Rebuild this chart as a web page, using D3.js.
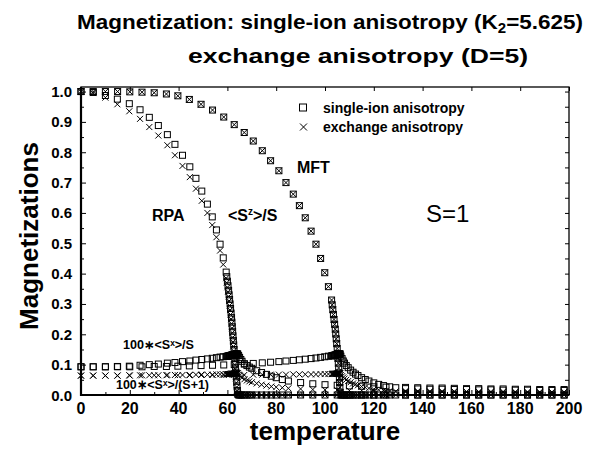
<!DOCTYPE html>
<html>
<head>
<meta charset="utf-8">
<script src="https://cdn.jsdelivr.net/npm/d3@7"></script>
<style>
  body { margin: 0; background: #fff; }
  text { font-family: "Liberation Sans", Arial, Helvetica, sans-serif; fill: #000; }
</style>
</head>
<body>
<script>
// ---- data ----

// RPA temperature grid (dense near Tc ~ 64)
let rpaT = [0, 5, 10, 14.9, 19.8, 24.2, 28, 31.7, 35.4, 38.5, 41.6, 44.6, 47.1, 49.5, 51.8, 53.8, 55.5, 57, 58.3,
  59.5, 59.75, 60, 60.25, 60.5, 60.7, 60.9, 61.1, 61.3, 61.5, 61.7, 61.85, 62, 62.15, 62.3, 62.45, 62.6, 62.75, 62.9, 63.05, 63.2, 63.35, 63.5, 63.65, 63.8, 63.95, 64.1, 64.25,
  64.6, 65, 65.5, 66, 67, 68, 69, 70, 72, 74, 76, 78, 80, 82.5, 85, 90, 95, 100, 105, 110, 115, 120, 125,
  133, 138, 143, 148, 153, 158, 163, 168, 173, 178, 183, 188, 193, 198];

// <Sz>/S, single-ion anisotropy (squares)
let rpaSzSingle = [1.0, 0.997, 0.987, 0.975, 0.96, 0.94, 0.915, 0.888, 0.858, 0.826, 0.79, 0.752, 0.714, 0.672, 0.629, 0.587, 0.544, 0.497, 0.452,
  0.405, 0.39, 0.375, 0.36, 0.345, 0.33, 0.315, 0.3, 0.285, 0.27, 0.255, 0.24, 0.225, 0.21, 0.195, 0.18, 0.165, 0.15, 0.135, 0.12, 0.105, 0.09, 0.075, 0.06, 0.045, 0.03, 0.015, 0.003,
  0, 0, 0, 0, 0, 0, 0, 0, 0, 0, 0, 0, 0, 0, 0, 0, 0, 0, 0, 0, 0, 0, 0,
  0, 0, 0, 0, 0, 0, 0, 0, 0, 0, 0, 0, 0, 0];

// <Sz>/S, exchange anisotropy (crosses)
let rpaSzExch = [1.0, 0.995, 0.98, 0.958, 0.935, 0.91, 0.883, 0.855, 0.823, 0.79, 0.755, 0.718, 0.68, 0.64, 0.6, 0.56, 0.52, 0.476, 0.43,
  0.385, 0.37, 0.355, 0.34, 0.325, 0.31, 0.295, 0.28, 0.265, 0.25, 0.235, 0.22, 0.205, 0.19, 0.175, 0.16, 0.145, 0.13, 0.115, 0.1, 0.085, 0.07, 0.055, 0.04, 0.026, 0.014, 0.005, 0,
  0, 0, 0, 0, 0, 0, 0, 0, 0, 0, 0, 0, 0, 0, 0, 0, 0, 0, 0, 0, 0, 0, 0,
  0, 0, 0, 0, 0, 0, 0, 0, 0, 0, 0, 0, 0, 0];

// 100*<Sx>/S, single-ion (squares)
let rpaSxSingle = [0.093, 0.093, 0.093, 0.094, 0.095, 0.098, 0.1, 0.102, 0.105, 0.107, 0.11, 0.112, 0.115, 0.117, 0.119, 0.121, 0.123, 0.125, 0.126,
  0.127, 0.127, 0.128, 0.128, 0.129, 0.129, 0.13, 0.13, 0.13, 0.131, 0.131, 0.131, 0.132, 0.132, 0.132, 0.133, 0.133, 0.133, 0.134, 0.134, 0.134, 0.134, 0.135, 0.135, 0.135, 0.135, 0.135, 0.135,
  0.13, 0.124, 0.117, 0.111, 0.103, 0.097, 0.092, 0.088, 0.08, 0.074, 0.068, 0.062, 0.057, 0.051, 0.046, 0.041, 0.037, 0.034, 0.032, 0.03, 0.029, 0.027, 0.026,
  0.025, 0.024, 0.023, 0.023, 0.022, 0.021, 0.021, 0.02, 0.02, 0.019, 0.019, 0.018, 0.018, 0.018];

// 100*<Sx>/(S+1), exchange (crosses)
let rpaSxExch = [0.064, 0.064, 0.064, 0.064, 0.065, 0.065, 0.065, 0.065, 0.066, 0.066, 0.066, 0.066, 0.067, 0.067, 0.067, 0.067, 0.068, 0.068, 0.068,
  0.068, 0.068, 0.068, 0.069, 0.069, 0.069, 0.069, 0.069, 0.069, 0.07, 0.07, 0.07, 0.07, 0.07, 0.07, 0.07, 0.07, 0.071, 0.071, 0.071, 0.071, 0.071, 0.071, 0.071, 0.071, 0.071, 0.071, 0.071,
  0.067, 0.064, 0.06, 0.057, 0.052, 0.048, 0.045, 0.042, 0.038, 0.034, 0.031, 0.028, 0.026, 0.024, 0.022, 0.02, 0.018, 0.017, 0.016, 0.015, 0.015, 0.014, 0.014,
  0.013, 0.013, 0.012, 0.012, 0.012, 0.011, 0.011, 0.011, 0.011, 0.01, 0.01, 0.01, 0.01, 0.01];

// MFT temperature grid (dense near Tc ~ 106)
let mftT = [0, 5, 10, 15, 20, 25, 30, 35, 39.7, 44.4, 49.2, 53.9, 58.5, 62.8, 66.9, 70.6, 74.3, 77.7, 81.1, 84, 87, 89.5, 91.9, 94.3, 96.3, 98.2, 99.9, 101.4,
  102.7, 102.95, 103.2, 103.45, 103.7, 103.95, 104.2, 104.4, 104.6, 104.8, 105, 105.15, 105.3, 105.45, 105.6, 105.75, 105.9, 106, 106.1, 106.2,
  106.5, 107, 107.5, 108, 108.7, 109.5, 110.5, 111.5, 112.5, 113.5, 115, 116.5, 118, 120, 122, 124, 126.5, 129,
  133, 138, 143, 148, 153, 158, 163, 168, 173, 178, 183, 188, 193, 198];

// MFT <Sz>/S (both anisotropies fall on top of each other)
let mftSz = [1, 1, 1, 1, 0.999, 0.998, 0.996, 0.992, 0.986, 0.974, 0.958, 0.939, 0.916, 0.891, 0.865, 0.837, 0.805, 0.772, 0.739, 0.7, 0.662, 0.624, 0.584, 0.54, 0.497, 0.45, 0.403, 0.357,
  0.313, 0.297, 0.281, 0.265, 0.249, 0.233, 0.217, 0.201, 0.185, 0.169, 0.153, 0.137, 0.121, 0.105, 0.089, 0.073, 0.057, 0.041, 0.025, 0.009,
  0, 0, 0, 0, 0, 0, 0, 0, 0, 0, 0, 0, 0, 0, 0, 0, 0, 0,
  0, 0, 0, 0, 0, 0, 0, 0, 0, 0, 0, 0, 0, 0];

let mftSxSingle = [0.093, 0.093, 0.093, 0.093, 0.093, 0.093, 0.094, 0.094, 0.095, 0.096, 0.097, 0.098, 0.099, 0.1, 0.102, 0.104, 0.106, 0.108, 0.11, 0.112, 0.114, 0.116, 0.118, 0.12, 0.122, 0.124, 0.126, 0.128,
  0.129, 0.129, 0.13, 0.13, 0.131, 0.131, 0.132, 0.132, 0.133, 0.133, 0.133, 0.134, 0.134, 0.134, 0.135, 0.135, 0.135, 0.135, 0.135, 0.135,
  0.128, 0.12, 0.112, 0.105, 0.097, 0.09, 0.082, 0.075, 0.069, 0.064, 0.057, 0.051, 0.046, 0.04, 0.035, 0.031, 0.027, 0.024,
  0.021, 0.02, 0.019, 0.019, 0.018, 0.018, 0.017, 0.017, 0.016, 0.016, 0.016, 0.015, 0.015, 0.015];

let mftSxExch = [0.064, 0.064, 0.064, 0.064, 0.064, 0.065, 0.065, 0.065, 0.065, 0.065, 0.066, 0.066, 0.066, 0.066, 0.066, 0.067, 0.067, 0.067, 0.067, 0.067, 0.068, 0.068, 0.068, 0.068, 0.068, 0.069, 0.069, 0.069,
  0.069, 0.069, 0.07, 0.07, 0.07, 0.07, 0.07, 0.07, 0.07, 0.071, 0.071, 0.071, 0.071, 0.071, 0.071, 0.071, 0.071, 0.071, 0.071, 0.071,
  0.066, 0.062, 0.058, 0.054, 0.05, 0.046, 0.042, 0.038, 0.035, 0.032, 0.028, 0.025, 0.022, 0.019, 0.017, 0.015, 0.013, 0.012,
  0.011, 0.011, 0.01, 0.01, 0.01, 0.01, 0.009, 0.009, 0.009, 0.009, 0.009, 0.008, 0.008, 0.008];

// tick values
let xMajor = [0, 20, 40, 60, 80, 100, 120, 140, 160, 180, 200];
let xMinor = [10, 30, 50, 70, 90, 110, 130, 150, 170, 190];
let yMajor = [0, 0.1, 0.2, 0.3, 0.4, 0.5, 0.6, 0.7, 0.8, 0.9, 1.0];
let yMinor = [0.05, 0.15, 0.25, 0.35, 0.45, 0.55, 0.65, 0.75, 0.85, 0.95];

// ---- layout ----
let svgWidth = 590,
    svgHeight = 452;

let svg = d3.select('body').append('svg')
            .attr('width', svgWidth)
            .attr('height', svgHeight);

let x = d3.scaleLinear().domain([0, 200]).range([81, 569]);
let y = d3.scaleLinear().domain([0, 1.015]).range([395, 87]);

// ticks (all pointing inwards)
function tickAxis(axis, vals, size, transform) {
  let g = svg.append('g')
             .attr('transform', transform)
             .call(axis.tickValues(vals).tickSize(size).tickFormat(''));
  g.select('.domain').remove();
  g.selectAll('line').attr('stroke', '#000').attr('stroke-width', 1);
  return g;
}
tickAxis(d3.axisBottom(x), xMajor, -5, 'translate(0,395)');
tickAxis(d3.axisBottom(x), xMinor, -3, 'translate(0,395)');
tickAxis(d3.axisTop(x), xMajor, -4, 'translate(0,87)');
tickAxis(d3.axisLeft(y), yMajor, -5, 'translate(81,0)');
tickAxis(d3.axisLeft(y), yMinor, -3, 'translate(81,0)');
tickAxis(d3.axisRight(y), yMajor.concat(yMinor), -4, 'translate(569,0)');

// frame
svg.append('rect')
   .attr('x', 81).attr('y', 87)
   .attr('width', 488).attr('height', 308)
   .attr('fill', 'none')
   .attr('stroke', '#000')
   .attr('stroke-width', 1.3);
svg.append('path')
   .attr('d', 'M81,87V395H569')
   .attr('fill', 'none')
   .attr('stroke', '#000')
   .attr('stroke-width', 2.2);

// tick labels
svg.append('g').selectAll('text')
   .data(xMajor).join('text')
   .attr('x', d => x(d))
   .attr('y', 414)
   .attr('text-anchor', 'middle')
   .style('font-size', '16px')
   .style('font-weight', 'bold')
   .text(d => d);

svg.append('g').selectAll('text')
   .data(yMajor).join('text')
   .attr('x', 72)
   .attr('y', d => y(d) + 5.5)
   .attr('text-anchor', 'end')
   .style('font-size', '15px')
   .style('font-weight', 'bold')
   .text(d => d.toFixed(1));

// ---- markers ----
function squares(tv, mv) {
  svg.append('g').selectAll('rect')
     .data(tv.map((t, i) => [t, mv[i]])).join('rect')
     .attr('x', d => x(d[0]) - 3)
     .attr('y', d => y(d[1]) - 3)
     .attr('width', 6)
     .attr('height', 6)
     .attr('fill', 'none')
     .attr('stroke', '#000')
     .attr('stroke-width', 1);
}
function crosses(tv, mv) {
  svg.append('g').selectAll('path')
     .data(tv.map((t, i) => [t, mv[i]])).join('path')
     .attr('d', d => {
       let px = x(d[0]), py = y(d[1]);
       return `M${px - 3},${py - 3}L${px + 3},${py + 3}M${px - 3},${py + 3}L${px + 3},${py - 3}`;
     })
     .attr('stroke', '#000')
     .attr('stroke-width', 1);
}

squares(rpaT, rpaSzSingle);
crosses(rpaT, rpaSzExch);
squares(rpaT, rpaSxSingle);
crosses(rpaT, rpaSxExch);
squares(mftT, mftSz);
crosses(mftT, mftSz);
squares(mftT, mftSxSingle);
crosses(mftT, mftSxExch);

// ---- legend ----
svg.append('rect')
   .attr('x', 299.5).attr('y', 104)
   .attr('width', 7).attr('height', 7)
   .attr('fill', 'none').attr('stroke', '#000');
svg.append('path')
   .attr('d', 'M300,123.5L307,130.5M300,130.5L307,123.5')
   .attr('stroke', '#000');
svg.append('text')
   .attr('x', 323).attr('y', 113)
   .style('font-size', '14px').style('font-weight', 'bold')
   .text('single-ion anisotropy');
svg.append('text')
   .attr('x', 323).attr('y', 132)
   .style('font-size', '14px').style('font-weight', 'bold')
   .text('exchange anisotropy');

// ---- titles and labels ----
let t1 = svg.append('text')
            .attr('x', 77).attr('y', 29)
            .attr('textLength', 506)
            .attr('lengthAdjust', 'spacingAndGlyphs')
            .style('font-size', '21px').style('font-weight', 'bold');
t1.append('tspan').text('Magnetization: single-ion anisotropy (K');
t1.append('tspan').attr('dy', 4).style('font-size', '14px').text('2');
t1.append('tspan').attr('dy', -4).text('=5.625)');

svg.append('text')
   .attr('x', 188).attr('y', 63)
   .attr('textLength', 340)
   .attr('lengthAdjust', 'spacingAndGlyphs')
   .style('font-size', '21px').style('font-weight', 'bold')
   .text('exchange anisotropy (D=5)');

svg.append('text')
   .attr('x', 325).attr('y', 440)
   .attr('text-anchor', 'middle')
   .style('font-size', '26px').style('font-weight', 'bold')
   .text('temperature');

svg.append('text')
   .attr('transform', 'translate(38,236) rotate(-90)')
   .attr('text-anchor', 'middle')
   .style('font-size', '26px').style('font-weight', 'bold')
   .text('Magnetizations');

svg.append('text')
   .attr('x', 297).attr('y', 173)
   .style('font-size', '16px').style('font-weight', 'bold')
   .text('MFT');

svg.append('text')
   .attr('x', 152).attr('y', 221)
   .style('font-size', '16px').style('font-weight', 'bold')
   .text('RPA');

let sz = svg.append('text')
            .attr('x', 228).attr('y', 221)
            .style('font-size', '16px').style('font-weight', 'bold');
sz.append('tspan').text('<S');
sz.append('tspan').attr('dy', -6).style('font-size', '10px').text('z');
sz.append('tspan').attr('dy', 6).text('>/S');

svg.append('text')
   .attr('x', 426).attr('y', 222)
   .style('font-size', '24px')
   .text('S=1');

// superscript x as a modifier letter, so each label is one plain text run
svg.append('text')
   .attr('x', 123).attr('y', 349)
   .attr('textLength', 71)
   .attr('lengthAdjust', 'spacingAndGlyphs')
   .style('font-size', '12px').style('font-weight', 'bold')
   .text('100\u2217<S\u02E3>/S');

svg.append('text')
   .attr('x', 116).attr('y', 389)
   .attr('textLength', 93)
   .attr('lengthAdjust', 'spacingAndGlyphs')
   .style('font-size', '13px').style('font-weight', 'bold')
   .text('100\u2217<S\u02E3>/(S+1)');
</script>
</body>
</html>
